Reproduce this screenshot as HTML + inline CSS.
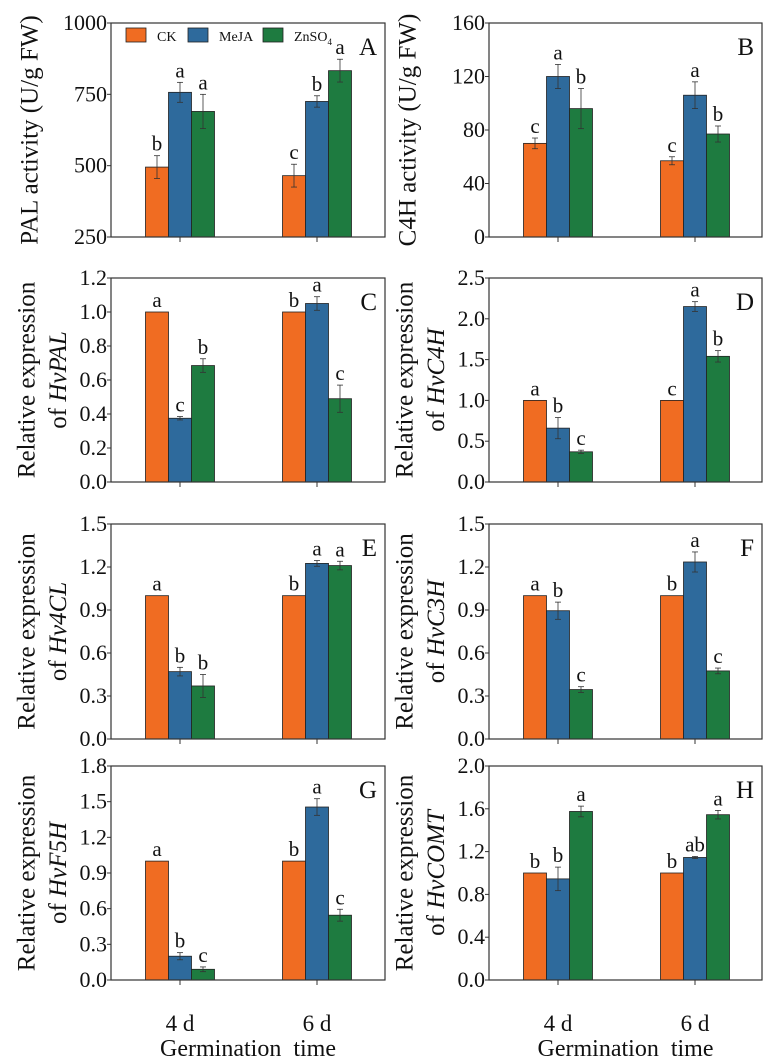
<!DOCTYPE html>
<html><head><meta charset="utf-8"><style>
html,body{margin:0;padding:0;background:#fff;}
svg, svg text, svg tspan{font-family:"Liberation Serif","Times New Roman",Times,serif !important;}
</style></head><body>
<svg id="fig" width="769" height="1058" viewBox="0 0 769 1058" font-family="Liberation Serif, serif" xmlns="http://www.w3.org/2000/svg"></svg>
<script>
const groups = ["4 d", "6 d"];
const series = ["CK", "MeJA", "ZnSO4"];
const colors = ["#f06c22", "#2e6a9c", "#1e7b40"];
const panelIds = ["A","B","C","D","E","F","G","H"];
const yMin = [250,0,0,0,0,0,0,0];
const yMax = [1000,160,1.2,2.5,1.5,1.5,1.8,2.0];
const yStep = [250,40,0.2,0.5,0.3,0.3,0.3,0.4];
const yDec = [0,0,1,1,1,1,1,1];
const ckVals = [[495,465],[70,57],[1,1],[1,1],[1,1],[1,1],[1,1],[1,1]];
const mejaVals = [[757,725],[120,106],[0.375,1.05],[0.66,2.15],[0.47,1.225],[0.895,1.235],[0.2,1.455],[0.945,1.145]];
const znVals = [[690,833],[96,77],[0.685,0.49],[0.37,1.54],[0.37,1.21],[0.345,0.475],[0.09,0.545],[1.575,1.545]];
const ckErr = [[40,40],[4,3],[0,0],[0,0],[0,0],[0,0],[0,0],[0,0]];
const mejaErr = [[35,20],[9,10],[0.01,0.04],[0.13,0.06],[0.03,0.02],[0.06,0.07],[0.03,0.07],[0.11,0.01]];
const znErr = [[60,40],[15,6],[0.04,0.08],[0.02,0.07],[0.08,0.03],[0.02,0.02],[0.02,0.05],[0.05,0.04]];
const ckLet = [["b","c"],["c","c"],["a","b"],["a","c"],["a","b"],["a","b"],["a","b"],["b","b"]];
const mejaLet = [["a","b"],["a","a"],["c","a"],["b","a"],["b","a"],["b","a"],["b","a"],["b","ab"]];
const znLet = [["a","a"],["b","b"],["b","c"],["c","b"],["b","a"],["c","c"],["c","c"],["a","a"]];
const titles = [["PAL activity (U/g FW)"],["C4H activity (U/g FW)"],["Relative expression","HvPAL"],["Relative expression","HvC4H"],["Relative expression","Hv4CL"],["Relative expression","HvC3H"],["Relative expression","HvF5H"],["Relative expression","HvCOMT"]];

const NS="http://www.w3.org/2000/svg";
const svg=document.getElementById('fig');
function mk(tag,attrs,parent){const e=document.createElementNS(NS,tag);for(const k in attrs)e.setAttribute(k,attrs[k]);if(tag==='text'){e.setAttribute('font-family','Liberation Serif, serif');}(parent||svg).appendChild(e);return e;}
const rows=[[23,237],[278,482],[524,739],[766,980]];
const cols=[[111,385],[489,762]];
const vals=[ckVals,mejaVals,znVals], errs=[ckErr,mejaErr,znErr], lets=[ckLet,mejaLet,znLet];
const barW=23;
for(let p=0;p<8;p++){
  const r=Math.floor(p/2), c=p%2;
  const [top,bot]=rows[r], [L,R]=cols[c];
  const g=mk('g',{});
  
  
  const y=v=>bot-(v-yMin[p])/(yMax[p]-yMin[p])*(bot-top);
  const gx=i=>L+(i===0?69:206);
  for(let gi=0;gi<groups.length;gi++){
    for(let s=0;s<3;s++){
      const v=vals[s][p][gi], e=errs[s][p][gi];
      const x0=gx(gi)-1.5*barW+s*barW;
      const b=mk('rect',{x:x0,y:y(v),width:barW,height:bot-y(v),fill:colors[s],stroke:'#222','stroke-width':0.8},g);
      
      
      const cx=x0+barW/2;
      if(e>0){
        mk('line',{x1:cx,x2:cx,y1:y(v+e),y2:y(v-e),stroke:'#333','stroke-width':0.8},g);
        mk('line',{x1:cx-3,x2:cx+3,y1:y(v+e),y2:y(v+e),stroke:'#333','stroke-width':0.8},g);
        mk('line',{x1:cx-3,x2:cx+3,y1:y(v-e),y2:y(v-e),stroke:'#333','stroke-width':0.8},g);
      }
      const t=mk('text',{x:cx,y:y(v+e)-5,'text-anchor':'middle','font-size':21,fill:'#111'},g);
      t.textContent=lets[s][p][gi];
      
      
    }
    mk('line',{x1:gx(gi),x2:gx(gi),y1:bot,y2:bot+5,stroke:'#333','stroke-width':1},g);
  }
  const f=mk('rect',{x:L,y:top,width:R-L,height:bot-top,fill:'none',stroke:'#333','stroke-width':1.2},g);
  
  
  const n=Math.round((yMax[p]-yMin[p])/yStep[p]);
  for(let k=0;k<=n;k++){
    const v=yMin[p]+k*yStep[p], yy=y(v);
    mk('line',{x1:L-4,x2:L,y1:yy,y2:yy,stroke:'#333','stroke-width':1},g);
    const t=mk('text',{x:L-4,y:yy+7,'text-anchor':'end','font-size':22,fill:'#111'},g);
    t.textContent=v.toFixed(yDec[p]);
    
    
  }
  const pl=mk('text',{x:R-8,y:top+32,'text-anchor':'end','font-size':25,fill:'#111'},g);
  pl.textContent=panelIds[p];
  
  
  const cy=(top+bot)/2;
  const tt=titles[p];
  if(tt.length===1){
    const tx=L-81;
    const t=mk('text',{x:tx,y:cy,'text-anchor':'middle','font-size':25,fill:'#111',transform:`rotate(-90 ${tx} ${cy})`,'dominant-baseline':'central'},g);
    t.textContent=tt[0];
    
    
  } else {
    const tx1=L-84, tx2=L-53;
    const t1=mk('text',{x:tx1,y:cy,'text-anchor':'middle','font-size':25,fill:'#111',transform:`rotate(-90 ${tx1} ${cy})`,'dominant-baseline':'central'},g);
    t1.textContent=tt[0];
    
    
    const t2=mk('text',{x:tx2,y:cy,'text-anchor':'middle','font-size':25,fill:'#111',transform:`rotate(-90 ${tx2} ${cy})`,'dominant-baseline':'central'},g);
    
    
    const a=mk('tspan',{},t2);a.textContent='of ';
    const b=mk('tspan',{'font-style':'italic'},t2);b.textContent=tt[1];
  }
  if(r===3){
    for(let gi=0;gi<groups.length;gi++){
      const t=mk('text',{x:gx(gi),y:1031,'text-anchor':'middle','font-size':23,fill:'#111'},g);
      t.textContent=groups[gi];
      
      
    }
    const xt=mk('text',{x:(L+R)/2,y:1056,'text-anchor':'middle','font-size':24,fill:'#111'},g);
    xt.style.whiteSpace='pre';
    xt.textContent='Germination  time';
    
    
  }
}
const lg=mk('g',{});


const lx=[126,188,263], tx=[157,219,294];
for(let s=0;s<3;s++){
  const e=mk('g',{},lg);
  
  
  mk('rect',{x:lx[s],y:28,width:20,height:14,fill:colors[s],stroke:'#222','stroke-width':0.8},e);
  const t=mk('text',{x:tx[s],y:41,'font-size':14,fill:'#111'},e);
  if(s<2) t.textContent=series[s];
  else { t.textContent='ZnSO'; const sb=mk('tspan',{'font-size':9,dy:4},t); sb.textContent='4'; }
}
</script>
</body></html>
